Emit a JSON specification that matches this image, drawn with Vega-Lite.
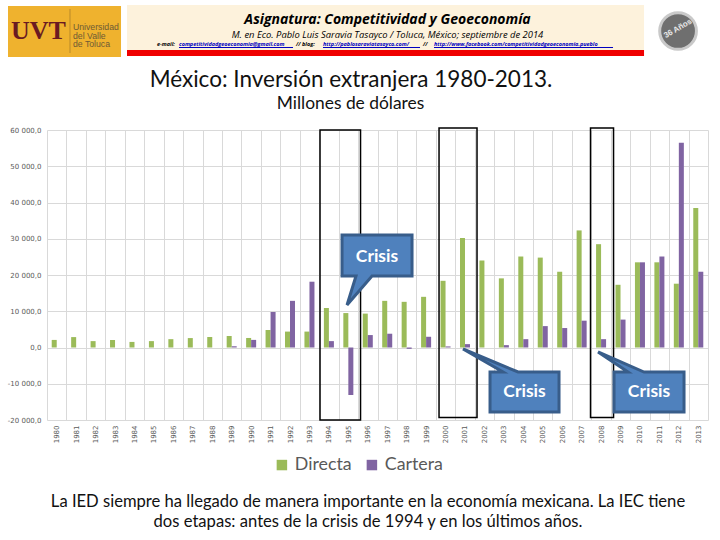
{
"$schema":"https://vega.github.io/schema/vega-lite/v6.json",
"width":661,"height":290,
"autosize":{"type":"none"},
"padding":{"left":47,"top":130,"right":12,"bottom":120},
"background":"white",
"config":{"locale":{"number":{"decimal":",","thousands":" ","grouping":[3],"currency":["","$"],"minus":"-"}},"view":{"stroke":null}},
"datasets":{
"inversion":[
{"year":"1980","serie":"Directa","valor":2090},{"year":"1981","serie":"Directa","valor":2870},{"year":"1982","serie":"Directa","valor":1760},{"year":"1983","serie":"Directa","valor":2040},{"year":"1984","serie":"Directa","valor":1540},{"year":"1985","serie":"Directa","valor":1760},{"year":"1986","serie":"Directa","valor":2300},{"year":"1987","serie":"Directa","valor":2600},{"year":"1988","serie":"Directa","valor":2880},{"year":"1989","serie":"Directa","valor":3150},{"year":"1990","serie":"Directa","valor":2630},{"year":"1991","serie":"Directa","valor":4800},{"year":"1992","serie":"Directa","valor":4390},{"year":"1993","serie":"Directa","valor":4390},{"year":"1994","serie":"Directa","valor":10900},{"year":"1995","serie":"Directa","valor":9500},{"year":"1996","serie":"Directa","valor":9350},{"year":"1997","serie":"Directa","valor":12870},{"year":"1998","serie":"Directa","valor":12600},{"year":"1999","serie":"Directa","valor":13980},{"year":"2000","serie":"Directa","valor":18400},{"year":"2001","serie":"Directa","valor":30200},{"year":"2002","serie":"Directa","valor":24000},{"year":"2003","serie":"Directa","valor":19070},{"year":"2004","serie":"Directa","valor":25100},{"year":"2005","serie":"Directa","valor":24800},{"year":"2006","serie":"Directa","valor":20900},{"year":"2007","serie":"Directa","valor":32300},{"year":"2008","serie":"Directa","valor":28500},{"year":"2009","serie":"Directa","valor":17300},{"year":"2010","serie":"Directa","valor":23500},{"year":"2011","serie":"Directa","valor":23500},{"year":"2012","serie":"Directa","valor":17600},{"year":"2013","serie":"Directa","valor":38500},
{"year":"1980","serie":"Cartera","valor":0},{"year":"1981","serie":"Cartera","valor":0},{"year":"1982","serie":"Cartera","valor":0},{"year":"1983","serie":"Cartera","valor":0},{"year":"1984","serie":"Cartera","valor":0},{"year":"1985","serie":"Cartera","valor":0},{"year":"1986","serie":"Cartera","valor":0},{"year":"1987","serie":"Cartera","valor":0},{"year":"1988","serie":"Cartera","valor":0},{"year":"1989","serie":"Cartera","valor":350},{"year":"1990","serie":"Cartera","valor":2100},{"year":"1991","serie":"Cartera","valor":9800},{"year":"1992","serie":"Cartera","valor":12870},{"year":"1993","serie":"Cartera","valor":18150},{"year":"1994","serie":"Cartera","valor":1760},{"year":"1995","serie":"Cartera","valor":-13100},{"year":"1996","serie":"Cartera","valor":3430},{"year":"1997","serie":"Cartera","valor":3800},{"year":"1998","serie":"Cartera","valor":-370},{"year":"1999","serie":"Cartera","valor":2960},{"year":"2000","serie":"Cartera","valor":300},{"year":"2001","serie":"Cartera","valor":930},{"year":"2002","serie":"Cartera","valor":0},{"year":"2003","serie":"Cartera","valor":650},{"year":"2004","serie":"Cartera","valor":2300},{"year":"2005","serie":"Cartera","valor":5900},{"year":"2006","serie":"Cartera","valor":5370},{"year":"2007","serie":"Cartera","valor":7400},{"year":"2008","serie":"Cartera","valor":2300},{"year":"2009","serie":"Cartera","valor":7700},{"year":"2010","serie":"Cartera","valor":23500},{"year":"2011","serie":"Cartera","valor":25100},{"year":"2012","serie":"Cartera","valor":56500},{"year":"2013","serie":"Cartera","valor":20900}
]
},
"resolve":{"scale":{"x":"independent","y":"independent"},"axis":{"x":"independent","y":"independent"}},
"layer":[
{"data":{"name":"inversion"},
 "mark":{"type":"bar"},
 "encoding":{
  "x":{"field":"year","type":"ordinal","title":null,"scale":{"paddingInner":0,"paddingOuter":0},
   "axis":{"orient":"bottom","tickBand":"extent","grid":true,"gridColor":"#d9d9d9","gridWidth":1,"ticks":false,"domain":false,"labelAngle":270,"labelFont":"DejaVu Sans","labelFontSize":7,"labelColor":"#595959","labelPadding":5,"labelBaseline":"middle","labelAlign":"right"}},
  "xOffset":{"field":"serie","type":"nominal","scale":{"domain":["Directa","Cartera"],"paddingInner":0,"paddingOuter":0.94}},
  "y":{"field":"valor","type":"quantitative","title":null,"scale":{"domain":[-20000,60000],"nice":false,"zero":false},
   "axis":{"orient":"left","values":[-20000,-10000,0,10000,20000,30000,40000,50000,60000],"format":",.1f","grid":true,"gridColor":"#d9d9d9","gridWidth":1,"ticks":false,"domain":false,"labelFont":"DejaVu Sans","labelFontSize":7,"labelColor":"#595959","labelPadding":6}},
  "color":{"field":"serie","type":"nominal","title":null,"scale":{"domain":["Directa","Cartera"],"range":["#9bbb59","#8064a2"]},
   "legend":{"orient":"none","legendX":226,"legendY":326,"direction":"horizontal","symbolType":"square","symbolSize":110,"symbolStrokeWidth":0,"labelFont":"Lato","labelFontSize":17.8,"labelColor":"#595959","columnPadding":11,"labelOffset":4}}
 }},
{"encoding":{
  "x":{"field":"x","type":"quantitative","title":null,"axis":null,"scale":{"domain":[1979.5,2013.5],"nice":false,"zero":false}},
  "y":{"field":"y","type":"quantitative","title":null,"axis":null,"scale":{"domain":[-20000,60000],"nice":false,"zero":false}}
 },
 "layer":[
 {"data":{"values":[{"x":1977.494,"x2":1983.307,"y":94206,"y2":80137}]},"mark":{"type":"rect","color":"#efb22e","clip":false},"encoding":{"x2":{"field":"x2"},"y2":{"field":"y2"}}},
 {"data":{"values":[{"x":1983.615,"x2":2010.21,"y":94482,"y2":82068}]},"mark":{"type":"rect","color":"#fdf2dc","clip":false},"encoding":{"x2":{"field":"x2"},"y2":{"field":"y2"}}},
 {"data":{"values":[{"x":1983.615,"x2":2010.21,"y":82068,"y2":80413}]},"mark":{"type":"rect","color":"#f00000","clip":false},"encoding":{"x2":{"field":"x2"},"y2":{"field":"y2"}}},
 {"data":{"values":[{"x":1980.683,"y":93379,"y2":81241}]},"mark":{"type":"rule","color":"#b98a2a","strokeWidth":1},"encoding":{"y2":{"field":"y2"}}},
 {"data":{"values":[{"x":1979.063,"y":87310,"t":"UVT"}]},"mark":{"type":"text","font":"Liberation Serif","fontWeight":"bold","fontSize":26,"color":"#6a1a22","align":"center","baseline":"middle"},"encoding":{"text":{"field":"t"}}},
 {"data":{"values":[{"x":1980.837,"y":88413,"t":"Universidad"},{"x":1980.837,"y":86068,"t":"del Valle"},{"x":1980.837,"y":83724,"t":"de Toluca"}]},"mark":{"type":"text","font":"Liberation Sans","fontSize":8.7,"color":"#6e5a35","align":"left","baseline":"middle"},"encoding":{"text":{"field":"t"}}},
 {"data":{"values":[{"x":2011.96,"y":87310}]},"mark":{"type":"point","filled":true,"shape":"circle","size":1350,"color":"#6f6f6f","stroke":"#c9c9c9","strokeWidth":3,"opacity":1}},
 {"data":{"values":[{"x":2011.96,"y":87900,"t":"36 Años"}]},"mark":{"type":"text","font":"Liberation Sans","fontWeight":"bold","fontSize":8,"color":"#e8e8e8","angle":330,"align":"center","baseline":"middle"},"encoding":{"text":{"field":"t"}}},
 {"data":{"values":[{"x":1997.015,"y":90344,"t":"Asignatura: Competitividad y Geoeconomía"}]},"mark":{"type":"text","font":"Open Sans","fontStyle":"italic","fontWeight":"bold","fontSize":14,"color":"#000000","align":"center","baseline":"middle"},"encoding":{"text":{"field":"t"}}},
 {"data":{"values":[{"x":1997.015,"y":86344,"t":"M. en Eco. Pablo Luis Saravia Tasayco / Toluca, México; septiembre de 2014"}]},"mark":{"type":"text","font":"Open Sans","fontStyle":"italic","fontSize":9.4,"color":"#000000","align":"center","baseline":"middle"},"encoding":{"text":{"field":"t"}}},
 {"data":{"values":[{"x":1985.158,"y":83724,"t":"e-mail:"},{"x":1992.31,"y":83724,"t":"// blog:"},{"x":1998.84,"y":83724,"t":"//"}]},"mark":{"type":"text","font":"Open Sans","fontStyle":"italic","fontWeight":"bold","fontSize":5.5,"color":"#000000","align":"left","baseline":"middle"},"encoding":{"text":{"field":"t"}}},
 {"data":{"values":[{"x":1986.29,"y":83724,"t":"competitividadgeoeconomia@gmail.com"},{"x":1993.698,"y":83724,"t":"http://pablosaraviatasayco.com/"},{"x":1999.407,"y":83724,"t":"http://www.facebook.com/competitividadgeoeconomia.pueblo"}]},"mark":{"type":"text","font":"Open Sans","fontStyle":"italic","fontWeight":"bold","fontSize":5.5,"color":"#0000c0","align":"left","baseline":"middle"},"encoding":{"text":{"field":"t"}}},
 {"data":{"values":[{"x":1986.29,"x2":1992.154,"y":82758},{"x":1993.698,"x2":1998.687,"y":82758},{"x":1999.407,"x2":2008.615,"y":82758}]},"mark":{"type":"rule","color":"#0000c0","strokeWidth":1},"encoding":{"x2":{"field":"x2"}}},
 {"data":{"values":[{"x":1995.138,"y":73793,"t":"México: Inversión extranjera 1980-2013."}]},"mark":{"type":"text","font":"Lato","fontSize":22.5,"color":"#111111","align":"center","baseline":"middle"},"encoding":{"text":{"field":"t"}}},
 {"data":{"values":[{"x":1995.112,"y":67172,"t":"Millones de dólares"}]},"mark":{"type":"text","font":"Lato","fontSize":17.4,"color":"#111111","align":"center","baseline":"middle"},"encoding":{"text":{"field":"t"}}},
 {"data":{"values":[{"x":1993.543,"x2":1995.627,"y":60000,"y2":-20000},{"x":1999.665,"x2":2001.619,"y":60552,"y2":-19310},{"x":2007.457,"x2":2008.641,"y":60552,"y2":-19310}]},"mark":{"type":"rect","fill":null,"fillOpacity":0,"stroke":"#000000","strokeWidth":1.5,"clip":false},"encoding":{"x2":{"field":"x2"},"y2":{"field":"y2"}}},
 {"data":{"values":[
  {"c":"a","o":1,"x":1994.675,"y":31034},{"c":"a","o":2,"x":1998.276,"y":31034},{"c":"a","o":3,"x":1998.276,"y":19724},{"c":"a","o":4,"x":1996.218,"y":19724},{"c":"a","o":5,"x":1994.932,"y":11724},{"c":"a","o":6,"x":1995.395,"y":19724},{"c":"a","o":7,"x":1994.675,"y":19724},{"c":"a","o":8,"x":1994.675,"y":31034},
  {"c":"b","o":1,"x":2002.288,"y":-6759},{"c":"b","o":2,"x":2002.957,"y":-6759},{"c":"b","o":3,"x":2000.899,"y":-414},{"c":"b","o":4,"x":2003.728,"y":-6759},{"c":"b","o":5,"x":2005.837,"y":-6759},{"c":"b","o":6,"x":2005.837,"y":-17793},{"c":"b","o":7,"x":2002.288,"y":-17793},{"c":"b","o":8,"x":2002.288,"y":-6759},
  {"c":"d","o":1,"x":2008.667,"y":-6759},{"c":"d","o":2,"x":2009.387,"y":-6759},{"c":"d","o":3,"x":2007.844,"y":-1241},{"c":"d","o":4,"x":2010.21,"y":-6759},{"c":"d","o":5,"x":2012.267,"y":-6759},{"c":"d","o":6,"x":2012.267,"y":-17793},{"c":"d","o":7,"x":2008.667,"y":-17793},{"c":"d","o":8,"x":2008.667,"y":-6759}
  ]},"mark":{"type":"line","fill":"#4f81bd","stroke":"#385d8a","strokeWidth":3,"strokeJoin":"miter","strokeCap":"square"},"encoding":{"detail":{"field":"c"},"order":{"field":"o","type":"quantitative"}}},
 {"data":{"values":[{"x":1996.475,"y":24965,"t":"Crisis"},{"x":2004.063,"y":-12276,"t":"Crisis"},{"x":2010.467,"y":-12276,"t":"Crisis"}]},"mark":{"type":"text","font":"Lato","fontWeight":"bold","fontSize":17.5,"color":"#ffffff","align":"center","baseline":"middle"},"encoding":{"text":{"field":"t"}}},
 {"data":{"values":[{"x":1996.012,"y":-42620,"t":"La IED siempre ha llegado de manera importante en la economía mexicana. La IEC tiene"},{"x":1996.012,"y":-48138,"t":"dos etapas: antes de la crisis de 1994 y en los últimos años."}]},"mark":{"type":"text","font":"Lato","fontSize":16.6,"color":"#111111","align":"center","baseline":"middle"},"encoding":{"text":{"field":"t"}}}
 ]}
]
}
